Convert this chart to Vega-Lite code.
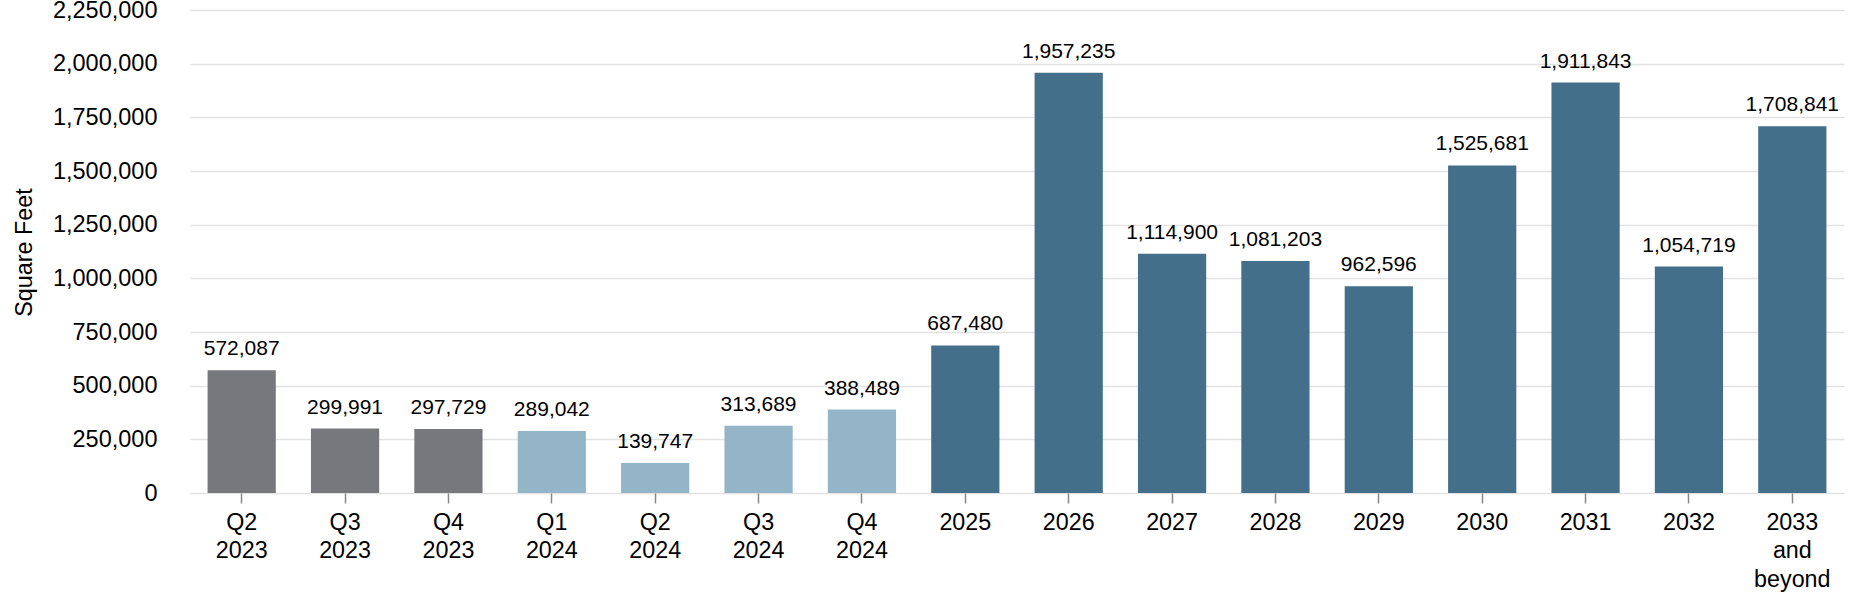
{
  "$schema": "https://vega.github.io/schema/vega-lite/v6.json",
  "width": 1654,
  "height": 483,
  "autosize": {"type": "none"},
  "padding": {"left": 190, "top": 10, "right": 6, "bottom": 107},
  "background": "white",
  "config": {
    "view": {"stroke": null},
    "font": "Liberation Sans"
  },
  "data": {
    "values": [
      {"period": "Q2 2023", "sqft": 572087, "group": "past"},
      {"period": "Q3 2023", "sqft": 299991, "group": "past"},
      {"period": "Q4 2023", "sqft": 297729, "group": "past"},
      {"period": "Q1 2024", "sqft": 289042, "group": "near"},
      {"period": "Q2 2024", "sqft": 139747, "group": "near"},
      {"period": "Q3 2024", "sqft": 313689, "group": "near"},
      {"period": "Q4 2024", "sqft": 388489, "group": "near"},
      {"period": "2025", "sqft": 687480, "group": "future"},
      {"period": "2026", "sqft": 1957235, "group": "future"},
      {"period": "2027", "sqft": 1114900, "group": "future"},
      {"period": "2028", "sqft": 1081203, "group": "future"},
      {"period": "2029", "sqft": 962596, "group": "future"},
      {"period": "2030", "sqft": 1525681, "group": "future"},
      {"period": "2031", "sqft": 1911843, "group": "future"},
      {"period": "2032", "sqft": 1054719, "group": "future"},
      {"period": "2033 and beyond", "sqft": 1708841, "group": "future"}
    ]
  },
  "encoding": {
    "x": {
      "field": "period",
      "type": "nominal",
      "sort": null,
      "scale": {"paddingInner": 0.34, "paddingOuter": 0.17},
      "axis": {
        "title": null,
        "labelAngle": 0,
        "labelExpr": "split(datum.label, ' ')",
        "labelFontSize": 23.3,
        "labelColor": "#000000",
        "labelLineHeight": 28.7,
        "labelPadding": 8,
        "tickColor": "#888888",
        "tickSize": 10,
        "tickWidth": 1.5,
        "domain": false,
        "grid": false
      }
    },
    "y": {
      "field": "sqft",
      "type": "quantitative",
      "scale": {"domain": [0, 2250000], "nice": false},
      "axis": {
        "title": "Square Feet",
        "titleFontSize": 23.4,
        "titleFontWeight": "normal",
        "titleColor": "#000000",
        "titleX": -159,
        "titleY": 242,
        "titleAngle": -90,
        "titleBaseline": "alphabetic",
        "values": [0, 250000, 500000, 750000, 1000000, 1250000, 1500000, 1750000, 2000000, 2250000],
        "format": ",d",
        "labelFontSize": 23.5,
        "labelColor": "#000000",
        "labelPadding": 33,
        "ticks": false,
        "domain": false,
        "gridColor": "#e3e3e3",
        "gridWidth": 1.5
      }
    }
  },
  "layer": [
    {
      "mark": {"type": "bar"},
      "encoding": {
        "color": {
          "field": "group",
          "type": "nominal",
          "scale": {"domain": ["past", "near", "future"], "range": ["#76787b", "#94b5c8", "#436f8a"]},
          "legend": null
        }
      }
    },
    {
      "mark": {"type": "text", "baseline": "alphabetic", "dy": -15, "fontSize": 21, "color": "#000000"},
      "encoding": {
        "text": {"field": "sqft", "type": "quantitative", "format": ",d"}
      }
    }
  ]
}
